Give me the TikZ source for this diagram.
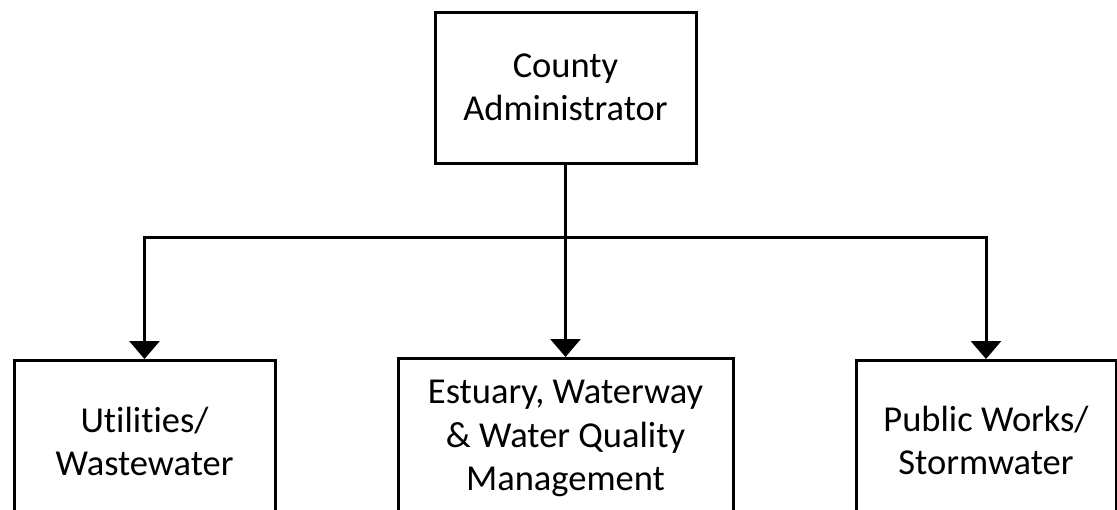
\documentclass[tikz,border=0pt]{standalone}
\usepackage{fontspec}
\setmainfont[Ligatures=NoCommon]{Carlito}
\usetikzlibrary{arrows.meta}
\begin{document}
\begin{tikzpicture}[x=1pt,y=-1pt,
  orgbox/.style={rectangle,draw,line width=3pt,align=center,inner sep=0pt,font=\fontsize{36.5}{43.5}\selectfont},
  link/.style={line width=3pt},
  tip/.style={-{Triangle[width=30pt,length=18pt]}}]
  \useasboundingbox (0,0) rectangle (1117,509);
  \node (Admin) [orgbox,minimum width=261pt,minimum height=151pt] at (565.5,87.5) {County\\Administrator};
  \node (Utilities) [orgbox,anchor=north,minimum width=261pt,minimum height=162pt] at (144.5,359) {Utilities/\\Wastewater};
  \node (Estuary) [orgbox,anchor=north,minimum width=335pt,minimum height=160pt] at (565.5,357) {Estuary, Waterway\\\& Water Quality\\Management};
  \node (PublicWorks) [orgbox,anchor=north,minimum width=260pt,minimum height=160pt] at (986,359) {Public Works/\\Stormwater};
  \coordinate (Split) at (565.5,237);
  \draw[link] (Admin.south) -- (Split);
  \draw[link,tip] (Split) -- (Estuary.north);
  \draw[link,tip] (Split) -| (Utilities.north);
  \draw[link,tip] (Split) -| (PublicWorks.north);
\end{tikzpicture}
\end{document}
